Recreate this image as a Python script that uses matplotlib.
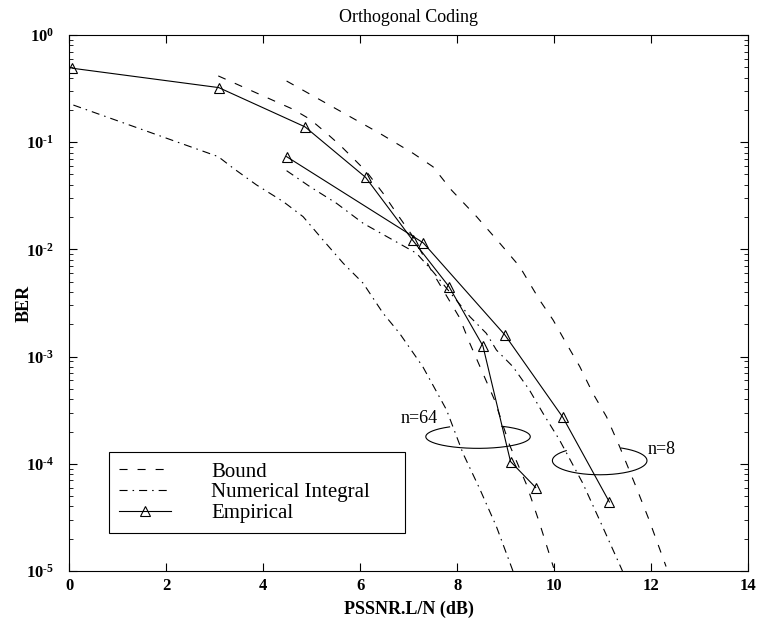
import numpy as np
import matplotlib
matplotlib.use('Agg')
import matplotlib.pyplot as plt
from matplotlib.ticker import FuncFormatter, LogLocator, NullFormatter

# Times-like look of the old plot
plt.rcParams['font.family'] = 'Liberation Serif'
plt.rcParams['mathtext.fontset'] = 'custom'
plt.rcParams['mathtext.rm'] = 'Liberation Serif'
plt.rcParams['mathtext.bf'] = 'Liberation Serif:bold'
plt.rcParams['lines.scale_dashes'] = False

# Bound (dashed)
snr_bound64 = [3.07, 4.61, 4.96, 5.27, 5.58, 5.85, 6.13, 6.47, 6.75, 7.09, 7.43,
               8.05, 8.26, 8.77, 9.08, 9.43, 9.70, 9.99]
ber_bound64 = [0.415, 0.203, 0.164, 0.125, 0.094, 0.071, 0.053, 0.0334, 0.0217,
               0.0131, 0.0068, 0.0023, 0.00133, 3.94e-4, 1.5e-4, 6.4e-5, 2.79e-5, 1.07e-5]
snr_bound8 = [4.48, 6.40, 7.09, 7.50, 7.88, 8.40, 8.88, 9.29, 9.70, 9.98, 10.25,
              10.53, 10.80, 11.08, 11.35, 11.69, 11.96, 12.31]
ber_bound8 = [0.372, 0.121, 0.0787, 0.059, 0.0358, 0.0202, 0.0114, 0.0069, 0.00337,
              0.00219, 0.00133, 8.05e-4, 4.54e-4, 2.75e-4, 1.45e-4, 6.1e-5, 2.99e-5, 1.1e-5]

# Numerical integral (dash-dot)
snr_num64 = [0.08, 3.07, 3.38, 3.86, 4.41, 4.82, 5.23, 5.65, 6.06, 6.47, 6.81,
             7.29, 7.78, 8.12, 8.46, 8.81, 9.15]
ber_num64 = [0.222, 0.0733, 0.0571, 0.0399, 0.0279, 0.0202, 0.01225, 0.00741,
             0.00483, 0.00254, 0.00165, 8.05e-4, 3.18e-4, 1.25e-4, 5.9e-5, 2.59e-5, 1.0e-5]
snr_num8 = [4.48, 4.96, 5.51, 6.06, 6.75, 7.16, 7.50, 8.26, 8.60, 8.81, 9.15,
            9.49, 9.77, 10.11, 10.59, 11.00, 11.41]
ber_num8 = [0.0542, 0.0385, 0.0269, 0.0175, 0.0117, 0.0092, 0.0062, 0.00236,
            0.00165, 0.00115, 8.05e-4, 4.88e-4, 2.96e-4, 1.67e-4, 6.6e-5, 2.59e-5, 1.0e-5]

# Empirical (solid with triangles)
snr_emp64 = [0.05, 3.08, 4.86, 6.11, 7.08, 7.83, 8.53, 9.10, 9.62]
ber_emp64 = [0.49, 0.323, 0.139, 0.047, 0.0122, 0.0045, 0.00126, 1.05e-4, 6.0e-5]
snr_emp8 = [4.48, 7.30, 8.98, 10.18, 11.14]
ber_emp8 = [0.0733, 0.0115, 0.0016, 2.71e-4, 4.4e-5]

DASH = (5.8, 7.2)
DASHDOT = (5.8, 3.6, 1.1, 3.6)
LW = 0.8

fig = plt.figure(figsize=(7.61, 6.18), dpi=100)
ax = fig.add_axes([0.0913, 0.0761, 0.8916, 0.8673])

ax.plot(snr_bound64, ber_bound64, color='k', lw=LW, dashes=DASH, label='Bound')
ax.plot(snr_bound8, ber_bound8, color='k', lw=LW, dashes=DASH)
ax.plot(snr_num64, ber_num64, color='k', lw=LW, dashes=DASHDOT, label='Numerical Integral')
ax.plot(snr_num8, ber_num8, color='k', lw=LW, dashes=DASHDOT)
ax.plot(snr_emp64, ber_emp64, color='k', lw=LW, marker='^', ms=7, mfc='none',
        mec='k', mew=0.8, label='Empirical')
ax.plot(snr_emp8, ber_emp8, color='k', lw=LW, marker='^', ms=7, mfc='none',
        mec='k', mew=0.8)

# hand-drawn style loops grouping each pair of curves
def loop(cx, cy, a, b, gap_from, gap_to):
    t = np.radians(np.linspace(gap_to, gap_from + 360, 200))
    ax.plot(cx + a * np.cos(t), 10 ** (np.log10(cy) + b * np.sin(t)), color='k', lw=LW)

loop(8.43, 1.79e-4, 1.078, 0.109, 63, 123)
loop(10.94, 1.07e-4, 0.976, 0.132, 63, 135)
ax.text(7.21, 2.67e-4, 'n=64', fontsize=13, ha='center', va='center')
ax.text(12.22, 1.37e-4, 'n=8', fontsize=13, ha='center', va='center')


def exp_label(v, pos):
    e = int(round(np.log10(v)))
    sup = ('\u2010%d' % -e) if e < 0 else '%d' % e
    return r'$\mathbf{10^{%s}}$' % sup


ax.set_yscale('log')
ax.set_xlim(0, 14)
ax.set_ylim(1e-5, 1)
ax.set_xticks(range(0, 15, 2))
ax.yaxis.set_major_locator(LogLocator(base=10, numticks=10))
ax.yaxis.set_minor_locator(LogLocator(base=10, subs=range(2, 10), numticks=20))
ax.yaxis.set_minor_formatter(NullFormatter())
ax.yaxis.set_major_formatter(FuncFormatter(exp_label))
plt.setp(ax.get_xticklabels(), fontweight='bold')

ax.tick_params(which='both', direction='in', top=True, right=True)
ax.tick_params(which='major', length=5.5, width=0.8, labelsize=12)
ax.tick_params(which='minor', length=3, width=0.6)
ax.tick_params(axis='x', pad=5)
ax.tick_params(axis='y', pad=11)
for s in ax.spines.values():
    s.set_linewidth(0.8)

ax.set_title('Orthogonal Coding', fontsize=13, pad=9.5)
ax.set_xlabel('PSSNR.L/N (dB)', fontsize=13, fontweight='bold', labelpad=5)
ax.set_ylabel('BER', fontsize=13, fontweight='bold')
ax.yaxis.set_label_coords(-0.055, 0.5)

leg = ax.legend(loc='lower left', bbox_to_anchor=(0.0582, 0.0703, 0.437, 0.150),
                mode='expand', borderaxespad=0, fontsize=15, handlelength=2.5,
                handletextpad=1.9, borderpad=0.5, labelspacing=0.05,
                fancybox=False, edgecolor='k', framealpha=1)
leg.get_frame().set_linewidth(0.8)

fig.savefig('out.png', dpi=100)
